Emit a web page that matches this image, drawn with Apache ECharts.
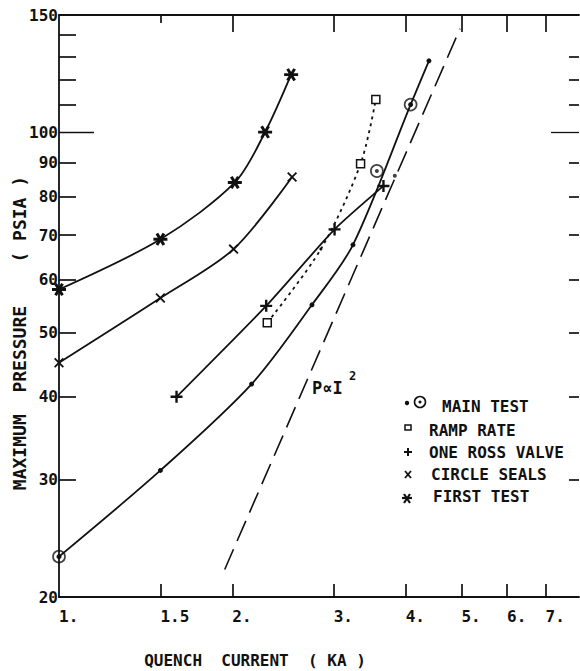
<!DOCTYPE html>
<html><head><meta charset="utf-8">
<script src="https://cdn.jsdelivr.net/npm/echarts@6/dist/echarts.min.js"></script>
<style>html,body{margin:0;padding:0;background:#fff}#c{width:580px;height:671px}</style>
</head><body><div id="c"></div>
<script>
// ---- data ----
const xTicks = [1, 1.5, 2, 3, 4, 5, 6, 7];
const xTickLabels = ['1.', '1.5', '2.', '3.', '4.', '5.', '6.', '7.'];
const yLabelValues = [20, 30, 40, 50, 60, 70, 80, 90, 100, 150];
const yTickValues = [30, 40, 50, 60, 70, 80, 90, 110, 120, 130, 140];

const mainTestX = [1.0, 1.5, 2.16, 2.75, 3.24, 4.08, 4.39];
const mainTestY = [23, 31, 41.8, 55, 67.7, 110, 128];
const mainExtraX = [3.565, 3.83];
const mainExtraY = [87.4, 86];
const mainCircledX = [1.0, 3.565, 4.08];
const mainCircledY = [23, 87.4, 110];
const rampX = [2.30, 2.85, 3.34, 3.55];
const rampY = [51.7, 66.7, 89.6, 112];
const rossX = [1.6, 2.29, 3.01, 3.66];
const rossY = [40, 54.8, 71.4, 83];
const sealsX = [1.0, 1.5, 2.01, 2.54];
const sealsY = [45, 56.3, 66.7, 85.6];
const firstX = [1.0, 1.5, 2.02, 2.28, 2.53];
const firstY = [58, 69, 84, 100, 122];
const squareLawX = [1.94, 4.97];
const squareLawY = [22, 143];

// ---- styling helpers ----
const FONT = "'DejaVu Sans Mono', 'Liberation Mono', monospace";
const INK = '#111';
function bars(angles, L, W) {
  let d = '';
  angles.forEach(a => {
    const r = a * Math.PI / 180, c = Math.cos(r), s = Math.sin(r);
    const pts = [[-L, -W], [L, -W], [L, W], [-L, W]].map(([px, py]) =>
      (px * c - py * s).toFixed(2) + ',' + (px * s + py * c).toFixed(2));
    d += 'M' + pts.join('L') + 'Z';
  });
  return 'path://' + d;
}
const starSym = bars([0, 60, 120], 7, 1.5);
const plusSym = bars([0, 90], 6, 1.2);
const crossSym = bars([45, 135], 6, 0.9);
const zip = (xs, ys) => xs.map((x, i) => [x, ys[i]]);
const nb = s => s.replace(/ /g, '\u00a0');

const baseLine = { color: INK, width: 1.8 };

const chart = echarts.init(document.getElementById('c'), null, { renderer: 'svg' });

function logX(extra) {
  return Object.assign({
    type: 'log', logBase: 10, min: 1, max: 8, gridIndex: 0,
    splitLine: { show: false }, minorTick: { show: false }, minorSplitLine: { show: false },
    axisLine: { show: false }, axisLabel: { show: false }, axisTick: { show: false }
  }, extra);
}
function logY(extra) {
  return Object.assign({
    type: 'log', logBase: 10, min: 20, max: 150, gridIndex: 0,
    splitLine: { show: false }, minorTick: { show: false }, minorSplitLine: { show: false },
    axisLine: { show: false }, axisLabel: { show: false }, axisTick: { show: false }
  }, extra);
}
const tickStyle = { color: INK, width: 1.7 };
const labelFont = { color: INK, fontFamily: FONT, fontSize: 16, fontWeight: 'bold' };

const option = {
  animation: false,
  backgroundColor: '#fff',
  grid: { left: 59, top: 15, width: 520, height: 582, containLabel: false },
  xAxis: [
    logX({
      position: 'bottom',
      axisLine: { show: true, onZero: false, lineStyle: { color: INK, width: 1.8 } },
      axisTick: { show: true, inside: true, length: 13, customValues: xTicks.slice(1), lineStyle: tickStyle },
      axisLabel: Object.assign({
        show: true, customValues: xTicks, margin: 11, align: 'left',
        formatter: v => { const i = xTicks.findIndex(t => Math.abs(t - v) < 1e-6); return i >= 0 ? xTickLabels[i] : ''; }
      }, labelFont)
    }),
    logX({
      position: 'top',
      axisLine: { show: true, onZero: false, lineStyle: { color: INK, width: 1.8 } },
      axisTick: { show: true, inside: true, length: 17, customValues: xTicks.slice(2), lineStyle: tickStyle }
    }),
    logX({
      position: 'top',
      axisTick: { show: true, inside: true, length: 8, customValues: [1.5], lineStyle: tickStyle }
    })
  ],
  yAxis: [
    logY({
      position: 'left',
      axisLine: { show: true, onZero: false, lineStyle: { color: INK, width: 1.8 } },
      axisTick: { show: true, inside: true, length: 17, customValues: yTickValues, lineStyle: tickStyle },
      axisLabel: Object.assign({
        show: true, customValues: yLabelValues, margin: 1,
        formatter: v => String(Math.round(v))
      }, labelFont)
    }),
    logY({
      position: 'left',
      axisTick: { show: true, inside: true, length: 35, customValues: [100], lineStyle: { color: INK, width: 1.3 } }
    }),
    logY({
      position: 'right',
      axisTick: { show: true, inside: true, length: 10, customValues: yTickValues.slice(0, 10), lineStyle: tickStyle }
    }),
    logY({
      position: 'right',
      axisTick: { show: true, inside: true, length: 28, customValues: [100], lineStyle: { color: INK, width: 1.3 } }
    })
  ],
  series: [
    {
      name: 'P ~ I^2', type: 'line', data: zip(squareLawX, squareLawY),
      showSymbol: false, symbol: 'none',
      lineStyle: { color: INK, width: 1.6, type: [22, 9] }, z: 2
    },
    {
      name: 'MAIN TEST', type: 'line', data: zip(mainTestX, mainTestY), smooth: 0.3,
      symbol: 'circle', symbolSize: 5, itemStyle: { color: INK }, lineStyle: baseLine, z: 3
    },
    {
      name: 'MAIN TEST extra', type: 'scatter', data: zip(mainExtraX, mainExtraY),
      symbol: 'circle', symbolSize: 4, itemStyle: { color: INK }, z: 4
    },
    {
      name: 'MAIN TEST circled', type: 'scatter', data: zip(mainCircledX, mainCircledY),
      symbol: 'circle', symbolSize: 12,
      itemStyle: { color: 'rgba(0,0,0,0)', borderColor: INK, borderWidth: 1.7 }, z: 4
    },
    {
      name: 'RAMP RATE', type: 'line',
      data: rampX.map((x, i) => i === 1
        ? { value: [x, rampY[i]], symbol: 'circle', symbolSize: 3, itemStyle: { color: INK, borderWidth: 0 } }
        : [x, rampY[i]]),
      smooth: 0.3, symbol: 'rect', symbolSize: 8,
      itemStyle: { color: '#fff', borderColor: INK, borderWidth: 1.5 },
      lineStyle: { color: INK, width: 1.8, type: [3, 4] }, z: 3
    },
    {
      name: 'ONE ROSS VALVE', type: 'line', data: zip(rossX, rossY), smooth: 0.2,
      symbol: plusSym, symbolSize: 12, itemStyle: { color: INK }, lineStyle: baseLine, z: 3
    },
    {
      name: 'CIRCLE SEALS', type: 'line', data: zip(sealsX, sealsY), smooth: 0.3,
      symbol: crossSym, symbolSize: 10, itemStyle: { color: INK }, lineStyle: baseLine, z: 3
    },
    {
      name: 'FIRST TEST', type: 'line', data: zip(firstX, firstY), smooth: 0.3,
      symbol: starSym, symbolSize: [14, 13], itemStyle: { color: INK }, lineStyle: baseLine, z: 3
    }
  ],
  graphic: [
    // axis titles
    { type: 'text', x: 255, y: 660, style: { text: nb('QUENCH  CURRENT  ( KA )'), fill: INK, font: 'bold 16px ' + FONT, align: 'center', verticalAlign: 'middle' } },
    { type: 'text', x: 19, y: 333, rotation: Math.PI / 2, style: { text: nb('MAXIMUM  PRESSURE    ( PSIA )'), fill: INK, font: 'bold 18px ' + FONT, align: 'center', verticalAlign: 'middle' } },
    // P ~ I^2 annotation
    { type: 'text', x: 312, y: 388, style: { text: 'P\u221dI', fill: INK, font: 'bold 17px ' + FONT, align: 'left', verticalAlign: 'middle' } },
    { type: 'text', x: 349, y: 376, style: { text: '2', fill: INK, font: 'bold 12px ' + FONT, align: 'left', verticalAlign: 'middle' } },
    // legend
    { type: 'circle', shape: { cx: 407, cy: 403, r: 2.2 }, style: { fill: INK } },
    { type: 'circle', shape: { cx: 420, cy: 402, r: 5.5 }, style: { fill: 'none', stroke: INK, lineWidth: 1.6 } },
    { type: 'circle', shape: { cx: 420, cy: 402, r: 1.5 }, style: { fill: INK } },
    { type: 'text', x: 442, y: 406, style: { text: 'MAIN TEST', fill: INK, font: 'bold 16px ' + FONT, verticalAlign: 'middle' } },
    { type: 'rect', shape: { x: 405, y: 425, width: 6, height: 5 }, style: { fill: '#fff', stroke: INK, lineWidth: 1.5 } },
    { type: 'text', x: 429, y: 430, style: { text: 'RAMP RATE', fill: INK, font: 'bold 16px ' + FONT, verticalAlign: 'middle' } },
    { type: 'line', shape: { x1: 404, y1: 452, x2: 412, y2: 452 }, style: { stroke: INK, lineWidth: 2 } },
    { type: 'line', shape: { x1: 408, y1: 448, x2: 408, y2: 456 }, style: { stroke: INK, lineWidth: 2 } },
    { type: 'text', x: 429, y: 452, style: { text: 'ONE ROSS VALVE', fill: INK, font: 'bold 16px ' + FONT, verticalAlign: 'middle' } },
    { type: 'line', shape: { x1: 405, y1: 471, x2: 411, y2: 478 }, style: { stroke: INK, lineWidth: 1.8 } },
    { type: 'line', shape: { x1: 411, y1: 471, x2: 405, y2: 478 }, style: { stroke: INK, lineWidth: 1.8 } },
    { type: 'text', x: 431, y: 474, style: { text: 'CIRCLE SEALS', fill: INK, font: 'bold 16px ' + FONT, verticalAlign: 'middle' } },
    { type: 'line', shape: { x1: 402, y1: 498, x2: 412, y2: 498 }, style: { stroke: INK, lineWidth: 2.2 } },
    { type: 'line', shape: { x1: 404, y1: 494, x2: 410, y2: 503 }, style: { stroke: INK, lineWidth: 2.2 } },
    { type: 'line', shape: { x1: 410, y1: 494, x2: 404, y2: 503 }, style: { stroke: INK, lineWidth: 2.2 } },
    { type: 'text', x: 433, y: 496, style: { text: 'FIRST TEST', fill: INK, font: 'bold 16px ' + FONT, verticalAlign: 'middle' } }
  ]
};
chart.setOption(option);
</script>
</body></html>
